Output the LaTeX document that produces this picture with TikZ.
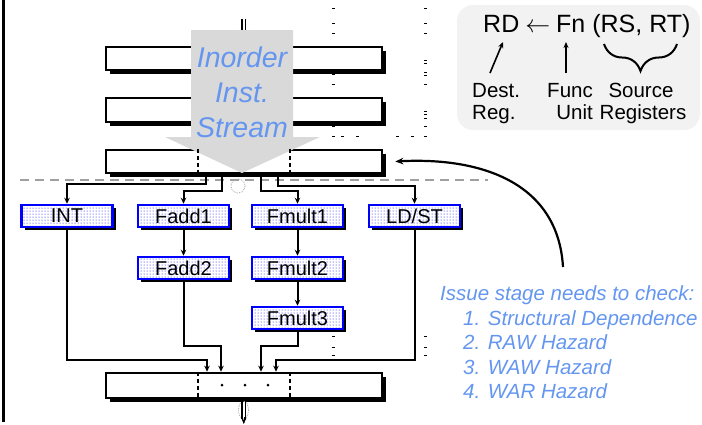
\documentclass[tikz,border=0pt]{standalone}
\usepackage{fontspec}
\setmainfont{Liberation Sans}
\usetikzlibrary{patterns,arrows.meta,decorations.pathreplacing,shadows}
\definecolor{tblue}{RGB}{100,150,240}
\definecolor{arrowgray}{RGB}{217,217,217}
\definecolor{dashgray}{RGB}{160,160,160}
\definecolor{boxgray}{RGB}{242,242,242}
\begin{document}
\begin{tikzpicture}[x=1pt,y=-1pt,
  reg/.style={general shadow={fill=black,shadow xshift=3.5pt,shadow yshift=-3.5pt},
    draw=black,line width=2.6pt,fill=white,minimum width=276pt,inner sep=0pt},
  fu/.style={general shadow={fill=black,shadow xshift=3pt,shadow yshift=-3pt},
    preaction={fill=white},draw=blue,line width=2.5pt,pattern=dots,pattern color=blue,
    minimum width=91pt,minimum height=22pt,inner sep=0pt,font=\fontsize{20}{21}\selectfont},
  conn/.style={line width=2pt,-{Stealth[length=6pt,width=5.5pt]}},
  regdash/.style={line width=1.8pt,dash pattern=on 4.5pt off 2.5pt},
  ghost/.style={draw=black!35,line width=0.8pt,densely dotted},
  speck/.style={line width=1pt},
  issue/.style={anchor=base west,inner sep=0pt,text=tblue,font=\fontsize{20.5}{24}\selectfont\itshape},
  lbl/.style={inner sep=0pt,font=\fontsize{20.5}{24}\selectfont}
]
\useasboundingbox (0,0) rectangle (702,424);

% left border line
\coordinate (lt) at (3.5,0);
\coordinate (lb) at (3.5,422);
\draw[line width=3pt] (lt) -- (lb);

% specks (artifacts)
\foreach \yy in {8,23,33,74,84,126,136,336,347,355}{
  \draw[speck] (332,\yy) -- (335,\yy);}
\foreach \yy in {8,23,33,60,63,72,75,84,111,114,118,126,136,336,347,355}{
  \draw[speck] (424,\yy) -- (427,\yy);}
\foreach \xx in {341,356,396,411}{
  \draw[speck] (\xx,136.5) -- (\xx+3,136.5);}

% pipeline registers
\node[reg,minimum height=23pt] (r1) at (244,58.5) {};
\node[reg,minimum height=24pt] (r2) at (244,110) {};
\node[reg,minimum height=23pt] (r3) at (244,161.5) {};
\node[reg,minimum height=25pt] (r4) at (244,385.5) {};

% top input
\coordinate (inA) at (242,19);
\coordinate (inB) at (242,30);
\coordinate (inC) at (245.5,19);
\coordinate (inD) at (245.5,30);
\draw[ghost] (236,30) arc[start angle=180,end angle=0,radius=7.5];
\draw[line width=1.5pt] (inA) -- (inB) (inC) -- (inD);

% gray arrow
\fill[arrowgray] (191,30) -- (293,30) -- (293,137) -- (320,137) -- (242,173) -- (165,137) -- (191,137) -- cycle;
\node[anchor=north,inner sep=0pt,align=center,text=tblue,
  font=\fontsize{28.5}{35}\selectfont\itshape] (stream) at (242,47) {Inorder\\Inst.\\Stream};

% dashed separators in registers
\draw[regdash] (r3.north -| 198,0) -- (r3.south -| 198,0);
\draw[regdash] (r3.north -| 290,0) -- (r3.south -| 290,0);
\draw[regdash] (r4.north -| 198,0) -- (r4.south -| 198,0);
\draw[regdash] (r4.north -| 290,0) -- (r4.south -| 290,0);

% issue line
\coordinate (dl) at (20,180);
\coordinate (dr) at (488,180);
\draw[dashgray,line width=2.5pt,dash pattern=on 9pt off 6pt] (dl) -- (dr);
\draw[ghost] (238,186) circle[radius=7];

% functional units
\node[fu] (INT)  at (67,216) {INT};
\node[fu] (FA1)  at (183.5,216) {Fadd1};
\node[fu] (FM1)  at (297.5,216) {Fmult1};
\node[fu] (LDST) at (414.5,216) {LD/ST};
\node[fu] (FA2)  at (183.5,268) {Fadd2};
\node[fu] (FM2)  at (297.5,268) {Fmult2};
\node[fu] (FM3)  at (297.5,318) {Fmult3};

% issue connectors
\draw[conn] (r3.south -| 206,0) -- ++(0,10) -| (INT.north);
\draw[conn] (r3.south -| 222,0) -- ++(0,17) -| (FA1.north);
\draw[conn] (r3.south -| 261,0) -- ++(0,17) -| (FM1.north);
\draw[conn] (r3.south -| 278,0) -- ++(0,12) -| (LDST.north);

\draw[conn] (FA1.south) -- (FA2.north);
\draw[conn] (FM1.south) -- (FM2.north);
\draw[conn] (FM2.south) -- (FM3.north);

% writeback connectors
\draw[conn] (INT.south) -- (INT.south |- 0,360) -| (r4.north -| 207,0);
\draw[conn] (FA2.south) -- (FA2.south |- 0,346) -| (r4.north -| 221,0);
\draw[conn] (FM3.south) -- (FM3.south |- 0,346) -| (r4.north -| 261,0);
\draw[conn] (LDST.south) -- (LDST.south |- 0,360) -| (r4.north -| 276,0);

% dots in last register
\foreach \xx in {222,245,268}{\fill (\xx,385) circle[radius=1.5];}

% output
\draw[ghost] (243.5,410) ellipse[x radius=5,y radius=9];
\draw[line width=1.4pt] (r4.south -| 242,0) -- (242,419) (r4.south -| 245.5,0) -- (245.5,419);
\coordinate (oT) at (243.8,424);
\coordinate (oS) at (243.8,417);
\draw[-{Stealth[length=6pt,width=5pt]},line width=0.5pt] (oS) -- (oT);

% curved arrow from note to issue register
\coordinate (cst) at (563,267);
\draw[line width=2.2pt,-{Stealth[length=8pt,width=6.5pt]}] (cst) .. controls (558,182) and (480,157) .. ([xshift=12pt]r3.east);

% note text
\node[issue] (n0) at (440,300) {Issue stage needs to check:};
\node[issue] (n1) at (463,325) {1. Structural Dependence};
\node[issue] (n2) at (463,349.5) {2. RAW Hazard};
\node[issue] (n3) at (463,374) {3. WAW Hazard};
\node[issue] (n4) at (463,398.5) {4. WAR Hazard};

% formula box
\node[fill=boxgray,rounded corners=16pt,minimum width=243pt,minimum height=125pt,inner sep=0pt] (fbox) at (578.5,67.5) {};
\node[anchor=base west,inner sep=0pt,font=\fontsize{25}{28}\selectfont] (title) at (483,32)
  {RD \makebox[23pt]{\fontsize{23}{24}\selectfont$\leftarrow$} Fn (RS, RT)};
\coordinate (a1s) at (490,73);
\coordinate (a1e) at (503,42);
\coordinate (a2s) at (566,73);
\coordinate (a2e) at (566,42);
\draw[line width=1.6pt,-{Stealth[length=6pt,width=5pt]}] (a1s) -- (a1e);
\draw[line width=1.6pt,-{Stealth[length=6pt,width=5pt]}] (a2s) -- (a2e);
\coordinate (b1) at (604,44);
\coordinate (b2) at (677,44);
\draw[line width=2pt,decorate,decoration={brace,amplitude=27pt,mirror}] (b1) -- (b2);
\node[lbl,anchor=base west] (d1) at (472,97) {Dest.};
\node[lbl,anchor=base west] (d2) at (472,119) {Reg.};
\node[lbl,anchor=base east] (f1) at (593,97) {Func};
\node[lbl,anchor=base east] (f2) at (593,119) {Unit};
\node[lbl,anchor=base] (s1) at (641,97) {Source};
\node[lbl,anchor=base] (s2) at (643,119) {Registers};
\end{tikzpicture}
\end{document}
